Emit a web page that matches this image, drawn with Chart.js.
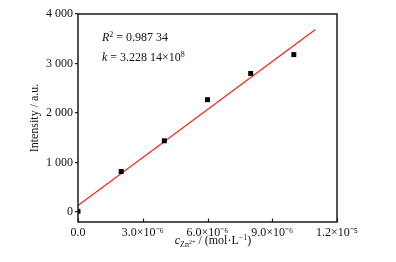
<!DOCTYPE html>
<html><head><meta charset="utf-8">
<script src="https://cdn.jsdelivr.net/npm/chart.js@4/dist/chart.umd.min.js"></script>
<style>html,body{margin:0;padding:0;background:#fff}#wrap{width:396px;height:262px}</style>
</head><body><div id="wrap"><canvas id="c" width="396" height="262"></canvas></div>
<script>
const concentrations = [0, 2e-6, 4e-6, 6e-6, 8e-6, 1e-5];
const intensities = [15, 820, 1440, 2270, 2800, 3180];
const fitSlope = 3.22814e8;
const fitIntercept = 135;
const fitRange = [0, 1.1e-5];
const xTickValues = [0, 3e-6, 6e-6, 9e-6, 1.2e-5];
const xTickLabels = ['0.0', '3.0×10⁻⁶', '6.0×10⁻⁶', '9.0×10⁻⁶', '1.2×10⁻⁵'];
const yTickValues = [0, 1000, 2000, 3000, 4000];
const yTickLabels = ['0', '1 000', '2 000', '3 000', '4 000'];
const yTitle = 'Intensity / a.u.';
const r2Text = '0.987 34';
const kText = '3.228 14×10';
const kExp = '8';

const SERIF = '"Liberation Serif", "Times New Roman", serif';

function drawRich(ctx, segs, x, y, align) {
  let w = 0;
  segs.forEach(s => { ctx.font = (s.italic ? 'italic ' : '') + s.size + 'px ' + SERIF; s.w = ctx.measureText(s.text).width; w += s.w; });
  let cx = align === 'center' ? x - w / 2 : x;
  ctx.textBaseline = 'alphabetic'; ctx.textAlign = 'left'; ctx.fillStyle = '#111';
  segs.forEach(s => { ctx.font = (s.italic ? 'italic ' : '') + s.size + 'px ' + SERIF; ctx.fillText(s.text, cx, y + (s.dy || 0)); cx += s.w; });
}

const decor = {
  id: 'decor',
  afterDraw(chart) {
    const ctx = chart.ctx, a = chart.chartArea, xs = chart.scales.x;
    ctx.save();
    ctx.strokeStyle = '#1a1a1a'; ctx.lineWidth = 1.5;
    ctx.strokeRect(a.left, a.top, a.right - a.left, a.bottom - a.top);
    ctx.lineWidth = 1.2;
    xs.ticks.forEach(t => {
      const px = Math.round(xs.getPixelForValue(t.value)) + 0.5;
      ctx.beginPath(); ctx.moveTo(px, a.bottom); ctx.lineTo(px, a.bottom - 3.5); ctx.stroke();
    });
    drawRich(ctx, [
      {text: 'c', italic: true, size: 12},
      {text: 'Zn', size: 8, dy: 3},
      {text: '2+', size: 6, dy: 0},
      {text: ' / (mol·L', size: 12},
      {text: '−1', size: 8, dy: -4},
      {text: ')', size: 12}
    ], 213, 244, 'center');
    drawRich(ctx, [
      {text: 'R', italic: true, size: 12},
      {text: '2', size: 8, dy: -4},
      {text: ' = ' + r2Text, size: 12}
    ], 102, 41, 'left');
    drawRich(ctx, [
      {text: 'k', italic: true, size: 12},
      {text: ' = ' + kText, size: 12},
      {text: kExp, size: 8, dy: -4}
    ], 102, 61, 'left');
    ctx.restore();
  }
};

const pts = concentrations.map((x, i) => ({x, y: intensities[i]}));
const fitPts = fitRange.map(x => ({x, y: fitSlope * x + fitIntercept}));

new Chart(document.getElementById('c'), {
  type: 'scatter',
  data: { datasets: [
    { data: fitPts, showLine: true, borderColor: '#f2241c', borderWidth: 1.2, pointRadius: 0, order: 2 },
    { data: pts, pointStyle: 'rect', pointRadius: 3.5, backgroundColor: '#000', borderColor: '#000', borderWidth: 0, clip: 0, order: 1 }
  ]},
  options: {
    responsive: false, animation: false, devicePixelRatio: 1,
    layout: { padding: { left: 0, top: 14, right: 59, bottom: 0 } },
    plugins: { legend: { display: false }, tooltip: { enabled: false } },
    scales: {
      x: {
        type: 'linear', min: 0, max: 1.2e-5,
        afterBuildTicks: s => { s.ticks = xTickValues.map(v => ({value: v})); },
        afterFit: s => { s.height = 40; },
        grid: { display: false, drawTicks: false },
        border: { display: false },
        ticks: { padding: 4, maxRotation: 0, autoSkip: false, color: '#111', font: { family: SERIF, size: 12 },
          callback: (v, i) => xTickLabels[i] }
      },
      y: {
        type: 'linear', min: -200, max: 4000,
        afterBuildTicks: s => { s.ticks = yTickValues.map(v => ({value: v})); },
        afterFit: s => { s.width = 78; },
        grid: { drawOnChartArea: false, drawTicks: true, tickLength: 3, color: '#1a1a1a', lineWidth: 1.2 },
        border: { display: false },
        title: { display: true, text: yTitle, color: '#111', font: { family: SERIF, size: 12 }, padding: { top: 28, bottom: 0 } },
        ticks: { padding: 2, color: '#111', font: { family: SERIF, size: 12 },
          callback: (v, i) => yTickLabels[i] }
      }
    }
  },
  plugins: [decor]
});
</script></body></html>
